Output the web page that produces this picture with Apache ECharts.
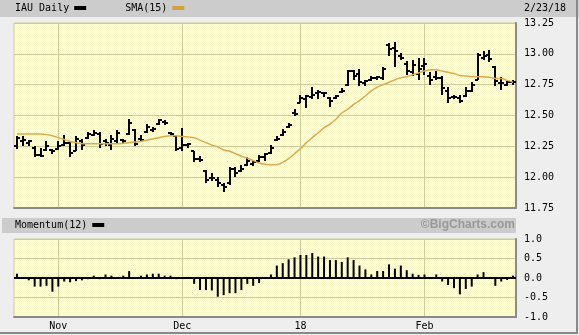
<!DOCTYPE html>
<html>
<head>
<meta charset="utf-8">
<title>IAU Daily</title>
<script src="https://cdn.jsdelivr.net/npm/echarts@6/dist/echarts.min.js"></script>
<style>
  html, body { margin: 0; padding: 0; background: #eeeeee; }
  #chart { width: 579px; height: 335px; }
</style>
</head>
<body>
<div id="chart"></div>
<script>
// trading days, Oct 23 2017 .. Feb 23 2018
const dates = [
  '10/23','10/24','10/25','10/26','10/27','10/30','10/31',
  '11/1','11/2','11/3','11/6','11/7','11/8','11/9','11/10','11/13','11/14','11/15','11/16','11/17',
  '11/20','11/21','11/22','11/24','11/27','11/28','11/29','11/30',
  '12/1','12/4','12/5','12/6','12/7','12/8','12/11','12/12','12/13','12/14','12/15','12/18','12/19',
  '12/20','12/21','12/22','12/26','12/27','12/28','12/29',
  '1/2','1/3','1/4','1/5','1/8','1/9','1/10','1/11','1/12','1/16','1/17','1/18','1/19','1/22','1/23',
  '1/24','1/25','1/26','1/29','1/30','1/31',
  '2/1','2/2','2/5','2/6','2/7','2/8','2/9','2/12','2/13','2/14','2/15','2/16','2/20','2/21','2/22','2/23'
];

const open = [
  12.25, 12.29, 12.28, 12.24, 12.18, 12.22, 12.22, 12.23, 12.26, 12.28,
  12.21, 12.29, 12.32, 12.34, 12.35, 12.29, 12.26, 12.29, 12.30, 12.35,
  12.38, 12.31, 12.37, 12.38, 12.43, 12.45, 12.36, 12.33, 12.24, 12.26,
  12.21, 12.15, 12.05, 11.99, 11.98, 11.94, 11.95, 12.07, 12.05, 12.10,
  12.11, 12.13, 12.16, 12.20, 12.30, 12.34, 12.41, 12.52, 12.60, 12.63,
  12.65, 12.68, 12.68, 12.64, 12.64, 12.69, 12.75, 12.86, 12.84, 12.76,
  12.79, 12.80, 12.80, 13.07, 13.05, 12.98, 12.92, 12.85, 12.84, 12.90,
  12.82, 12.81, 12.80, 12.70, 12.65, 12.64, 12.66, 12.70, 12.79, 12.97,
  12.99, 12.89, 12.76, 12.75, 12.77
];
const high = [
  12.33, 12.33, 12.30, 12.25, 12.24, 12.29, 12.23, 12.29, 12.34, 12.29,
  12.33, 12.31, 12.37, 12.38, 12.37, 12.31, 12.34, 12.38, 12.31, 12.47,
  12.39, 12.34, 12.43, 12.41, 12.47, 12.46, 12.37, 12.33, 12.40, 12.28,
  12.21, 12.17, 12.06, 12.03, 12.00, 11.95, 12.08, 12.08, 12.10, 12.16,
  12.14, 12.18, 12.20, 12.26, 12.33, 12.39, 12.44, 12.55, 12.67, 12.67,
  12.73, 12.71, 12.69, 12.65, 12.67, 12.72, 12.87, 12.87, 12.88, 12.79,
  12.82, 12.82, 12.89, 13.09, 13.10, 13.01, 12.94, 12.95, 12.97, 12.97,
  12.85, 12.86, 12.82, 12.73, 12.67, 12.67, 12.73, 12.77, 13.01, 13.02,
  13.03, 12.90, 12.81, 12.78, 12.79
];
const low = [
  12.23, 12.25, 12.25, 12.16, 12.16, 12.21, 12.19, 12.22, 12.25, 12.16,
  12.21, 12.22, 12.31, 12.33, 12.24, 12.25, 12.22, 12.28, 12.28, 12.34,
  12.25, 12.29, 12.36, 12.37, 12.42, 12.42, 12.33, 12.21, 12.21, 12.24,
  12.12, 12.12, 11.95, 11.97, 11.92, 11.88, 11.94, 12.00, 12.04, 12.09,
  12.09, 12.12, 12.13, 12.19, 12.29, 12.33, 12.40, 12.50, 12.60, 12.56,
  12.63, 12.63, 12.65, 12.57, 12.63, 12.68, 12.74, 12.79, 12.74, 12.74,
  12.78, 12.79, 12.79, 12.98, 12.89, 12.95, 12.83, 12.82, 12.79, 12.83,
  12.75, 12.79, 12.67, 12.60, 12.63, 12.60, 12.65, 12.69, 12.79, 12.95,
  12.93, 12.74, 12.71, 12.74, 12.75
];
const close = [
  12.32, 12.30, 12.29, 12.18, 12.17, 12.25, 12.21, 12.25, 12.28, 12.20,
  12.31, 12.26, 12.35, 12.36, 12.27, 12.28, 12.31, 12.36, 12.29, 12.44,
  12.27, 12.30, 12.41, 12.39, 12.46, 12.44, 12.35, 12.23, 12.26, 12.27,
  12.15, 12.14, 11.98, 11.99, 11.95, 11.92, 12.07, 12.03, 12.07, 12.13,
  12.12, 12.16, 12.19, 12.24, 12.31, 12.37, 12.42, 12.51, 12.64, 12.66,
  12.67, 12.69, 12.68, 12.62, 12.66, 12.70, 12.86, 12.82, 12.77, 12.78,
  12.80, 12.81, 12.88, 13.04, 13.02, 12.97, 12.86, 12.91, 12.88, 12.92,
  12.79, 12.80, 12.72, 12.64, 12.65, 12.62, 12.70, 12.75, 12.99, 12.98,
  12.96, 12.78, 12.76, 12.77, 12.77
];

const sma15 = [
  12.35, 12.35, 12.35, 12.35, 12.35, 12.345, 12.335, 12.32, 12.305, 12.29,
  12.28, 12.27, 12.27, 12.27, 12.27, 12.27, 12.27, 12.27, 12.275, 12.28,
  12.285, 12.29, 12.30, 12.31, 12.32, 12.33, 12.335, 12.335, 12.33, 12.325,
  12.32, 12.30, 12.28, 12.26, 12.245, 12.22, 12.21, 12.19, 12.17, 12.155,
  12.135, 12.115, 12.105, 12.10, 12.10, 12.12, 12.15, 12.19, 12.23, 12.28,
  12.32, 12.36, 12.40, 12.43, 12.47, 12.52, 12.55, 12.59, 12.62, 12.66,
  12.70, 12.73, 12.75, 12.77, 12.79, 12.805, 12.815, 12.83, 12.845, 12.86,
  12.87, 12.87, 12.86, 12.85, 12.84, 12.825, 12.82, 12.815, 12.815, 12.815,
  12.81, 12.80, 12.80, 12.785, 12.77
];

const momentum12 = [
  0.11, 0.00, -0.06, -0.22, -0.22, -0.20, -0.35, -0.22, -0.09, -0.11,
  -0.08, -0.06, -0.03, 0.06, -0.03, 0.09, 0.06, 0.00, 0.06, 0.18,
  0.00, 0.06, 0.09, 0.11, 0.11, 0.06, 0.06, -0.03, 0.00, 0.00,
  -0.15, -0.31, -0.31, -0.32, -0.48, -0.44, -0.39, -0.39, -0.31, -0.15,
  -0.20, -0.13, 0.00, 0.09, 0.32, 0.38, 0.48, 0.53, 0.59, 0.59,
  0.64, 0.55, 0.55, 0.46, 0.46, 0.41, 0.53, 0.46, 0.32, 0.22,
  0.09, 0.18, 0.18, 0.35, 0.24, 0.32, 0.20, 0.11, 0.08, 0.09,
  0.00, 0.09, -0.09, -0.18, -0.26, -0.42, -0.28, -0.22, 0.09, 0.15,
  0.00, -0.20, -0.09, -0.05, 0.06
];

const tickDays = ['11/1', '12/1', '1/2', '2/1'];
const tickLabels = ['Nov', 'Dec', '18', 'Feb'];

const MONO = '"DejaVu Sans Mono", monospace';
const GRID_LINE = '#cccc99';
const FRAME = '#8a8a8a';

// dithered pale yellow like the original gif
const tile = document.createElement('canvas');
tile.width = 2; tile.height = 2;
const tctx = tile.getContext('2d');
tctx.fillStyle = '#ffffe6'; tctx.fillRect(0, 0, 2, 2);
tctx.fillStyle = '#f7f7c8'; tctx.fillRect(0, 0, 1, 1); tctx.fillRect(1, 1, 1, 1);
const plotBg = { image: tile, repeat: 'repeat' };

const isTickDay = (i, v) => tickDays.includes(v);

const ohlc = dates.map((d, i) => [i, open[i], high[i], low[i], close[i]]);

function renderBar(params, api) {
  const i = api.value(0);
  const pO = api.coord([i, api.value(1)]);
  const pH = api.coord([i, api.value(2)]);
  const pL = api.coord([i, api.value(3)]);
  const pC = api.coord([i, api.value(4)]);
  const x = Math.round(pH[0]);
  const yO = Math.round(pO[1]);
  const yC = Math.round(pC[1]);
  const style = { stroke: '#000', lineWidth: 2 };
  return {
    type: 'group',
    children: [
      { type: 'line', shape: { x1: x, y1: Math.round(pH[1]), x2: x, y2: Math.round(pL[1]) }, style },
      { type: 'line', shape: { x1: x - 3, y1: yO, x2: x, y2: yO }, style },
      { type: 'line', shape: { x1: x, y1: yC, x2: x + 3, y2: yC }, style }
    ]
  };
}

function catAxis(gridIndex, showLabels) {
  return {
    type: 'category',
    gridIndex,
    data: dates,
    boundaryGap: true,
    axisLine: { show: true, onZero: false, lineStyle: { color: FRAME, width: 2 } },
    axisTick: { show: false },
    axisLabel: {
      show: showLabels,
      interval: isTickDay,
      margin: 4,
      color: '#000',
      fontFamily: MONO,
      fontSize: 10,
      formatter: (v) => tickLabels[tickDays.indexOf(v)]
    },
    splitLine: {
      show: true,
      interval: isTickDay,
      alignWithLabel: true,
      lineStyle: { color: GRID_LINE, width: 1 }
    }
  };
}

function valAxis(gridIndex, min, max, step, digits) {
  return {
    type: 'value',
    gridIndex,
    position: 'right',
    min, max, interval: step,
    axisLine: { show: true, lineStyle: { color: FRAME, width: 2 } },
    axisTick: { show: false },
    axisLabel: {
      margin: 8,
      color: '#000',
      fontFamily: MONO,
      fontSize: 10,
      formatter: (v) => v.toFixed(digits)
    },
    splitLine: { show: true, lineStyle: { color: GRID_LINE, width: 1 } }
  };
}

const legendCommon = {
  left: 15,
  align: 'right',
  icon: 'rect',
  itemWidth: 12,
  itemHeight: 4,
  itemGap: 39,
  padding: 0,
  selectedMode: false,
  textStyle: { color: '#000', fontFamily: MONO, fontSize: 10 }
};

const chart = echarts.init(document.getElementById('chart'));
chart.setOption({
  animation: false,
  backgroundColor: '#eeeeee',
  graphic: [
    { type: 'rect', shape: { x: 0, y: 0, width: 579, height: 17 }, style: { fill: '#cccccc' }, z: -1 },
    { type: 'rect', shape: { x: 2, y: 218, width: 514, height: 15 }, style: { fill: '#cccccc' }, z: -1 },
    { type: 'polyline', shape: { points: [[577, 0], [577, 333], [0, 333]] }, style: { stroke: FRAME, lineWidth: 2, fill: null } }
  ],
  title: [
    { text: '2/23/18', left: 524, top: 3, padding: 0,
      textStyle: { color: '#000', fontFamily: MONO, fontSize: 10, fontWeight: 'normal' } },
    { text: '©BigCharts.com', right: 64, top: 219, padding: 0,
      textStyle: { color: '#999999', fontFamily: '"Liberation Sans", Arial, sans-serif', fontSize: 12, fontWeight: 'bold' } }
  ],
  legend: [
    Object.assign({}, legendCommon, { top: 3, data: ['IAU Daily', 'SMA(15)'] }),
    Object.assign({}, legendCommon, { top: 220, data: ['Momentum(12)'] })
  ],
  grid: [
    { left: 14, top: 23, width: 502, height: 185, show: true, backgroundColor: plotBg, borderColor: GRID_LINE, borderWidth: 1 },
    { left: 14, top: 239, width: 502, height: 78, show: true, backgroundColor: plotBg, borderColor: GRID_LINE, borderWidth: 1 }
  ],
  xAxis: [catAxis(0, false), catAxis(1, true)],
  yAxis: [valAxis(0, 11.75, 13.25, 0.25, 2), valAxis(1, -1, 1, 0.5, 1)],
  series: [
    {
      name: 'SMA(15)',
      type: 'line',
      xAxisIndex: 0, yAxisIndex: 0,
      data: sma15,
      smooth: 0.3,
      showSymbol: false,
      itemStyle: { color: '#d6a040' },
      lineStyle: { color: '#dcaa4c', width: 1.5 }
    },
    {
      name: 'IAU Daily',
      type: 'custom',
      xAxisIndex: 0, yAxisIndex: 0,
      data: ohlc,
      encode: { x: 0, y: [1, 2, 3, 4] },
      itemStyle: { color: '#000' },
      renderItem: renderBar
    },
    {
      name: 'Momentum(12)',
      type: 'bar',
      xAxisIndex: 1, yAxisIndex: 1,
      data: momentum12,
      barWidth: 2,
      itemStyle: { color: '#000' },
      markLine: {
        silent: true,
        symbol: 'none',
        label: { show: false },
        lineStyle: { color: '#000', width: 2, type: 'solid' },
        data: [{ yAxis: 0 }]
      }
    }
  ]
});
</script>
</body>
</html>
